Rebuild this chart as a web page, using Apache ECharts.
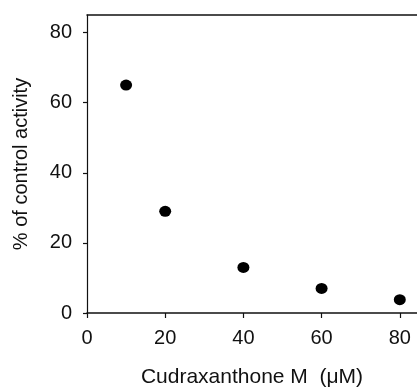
<!DOCTYPE html>
<html>
<head>
<meta charset="utf-8">
<script src="https://cdn.jsdelivr.net/npm/echarts@6/dist/echarts.min.js"></script>
<style>html,body{margin:0;padding:0;background:#fff;}#c{width:417px;height:387px;}</style>
</head>
<body>
<div id="c"></div>
<script>
var concentrations = [10, 20, 40, 60, 80];
var activity = [65, 29, 13, 7, 3.8];
var xTicks = [0, 20, 40, 60, 80];
var yTicks = [0, 20, 40, 60, 80];
var xTitle = 'Cudraxanthone M  (\u03bcM)';
var yTitle = '% of control activity';

var data = concentrations.map(function (c, i) { return [c, activity[i]]; });
var font = '"Liberation Sans", Arial, sans-serif';
var chart = echarts.init(document.getElementById('c'), null, {renderer: 'canvas'});
chart.setOption({
  animation: false,
  backgroundColor: '#fff',
  grid: {left: 87, right: 0, top: 15, bottom: 74, containLabel: false, outerBoundsMode: 'none'},
  xAxis: [{
    type: 'value', min: 0, max: 84.4, interval: 20,
    name: xTitle, nameLocation: 'middle', nameGap: 54,
    nameTextStyle: {fontFamily: font, fontSize: 21, color: '#111'},
    axisLine: {show: true, lineStyle: {color: '#111', width: 1.5}},
    axisTick: {show: true, length: 5, lineStyle: {color: '#111', width: 1.2}, customValues: xTicks},
    axisLabel: {fontFamily: font, fontSize: 20, color: '#111', margin: 15, customValues: xTicks},
    splitLine: {show: false}
  }, {
    type: 'value', min: 0, max: 84.4, position: 'top',
    axisLine: {show: true, lineStyle: {color: '#111', width: 1.5}},
    axisTick: {show: false}, axisLabel: {show: false}, splitLine: {show: false}
  }],
  yAxis: {
    type: 'value', min: 0, max: 85, interval: 20,
    name: yTitle, nameLocation: 'middle', nameGap: 56, nameRotate: 90,
    nameTextStyle: {fontFamily: font, fontSize: 20, color: '#111'},
    axisLine: {show: true, lineStyle: {color: '#111', width: 1.2}},
    axisTick: {show: true, length: 4, lineStyle: {color: '#111', width: 1.2}, customValues: yTicks},
    axisLabel: {fontFamily: font, fontSize: 20, color: '#111', margin: 15, customValues: yTicks},
    splitLine: {show: false}
  },
  series: [{
    type: 'scatter', data: data, xAxisIndex: 0,
    symbol: 'circle', symbolSize: [12, 11],
    itemStyle: {color: '#000', opacity: 1}
  }]
});
</script>
</body>
</html>
